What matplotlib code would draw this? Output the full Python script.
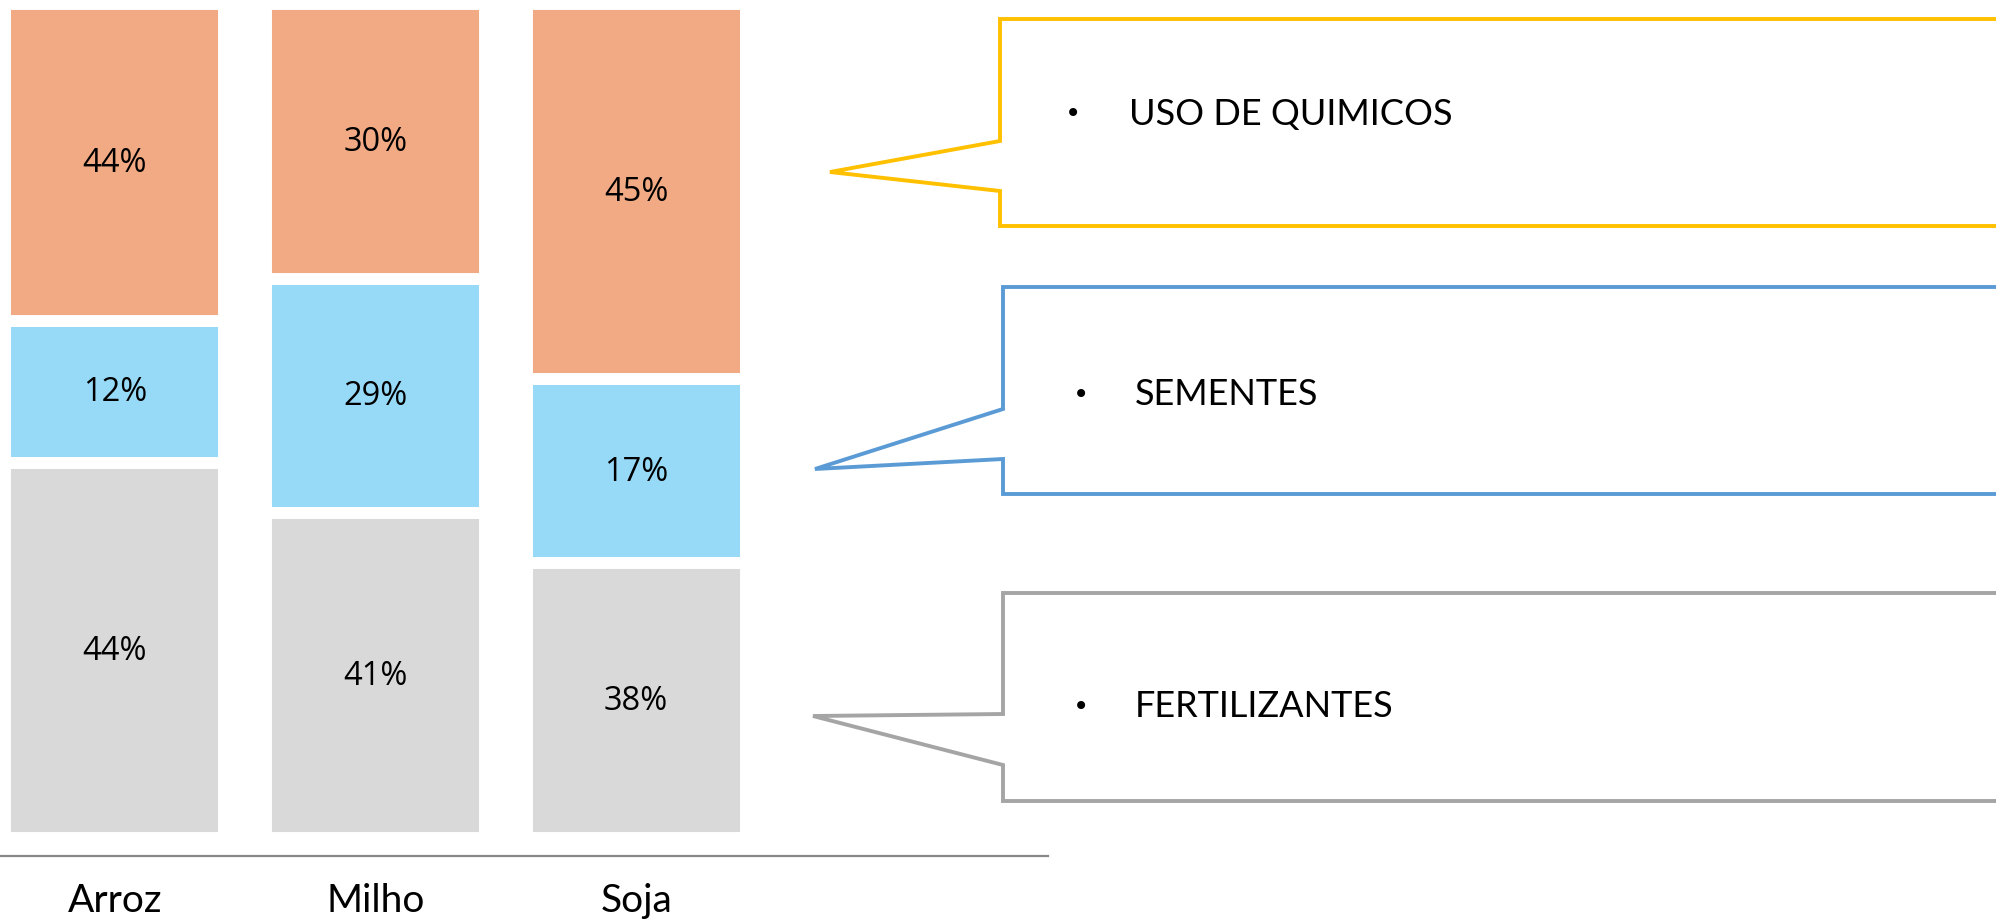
import numpy as np
import matplotlib
matplotlib.use("Agg")
import matplotlib.pyplot as plt
from matplotlib.patches import Polygon

# dados (alturas dos segmentos e rótulos exibidos)
categorias = ["Arroz", "Milho", "Soja"]
fertilizantes = [45, 39, 33]
sementes = [17, 28, 22]
quimicos = [38, 33, 45]
rot_fertilizantes = ["44%", "41%", "38%"]
rot_sementes = ["12%", "29%", "17%"]
rot_quimicos = ["44%", "30%", "45%"]

cor_laranja = "#F2AA84"
cor_azul = "#97DAF7"
cor_cinza = "#D9D9D9"

W, H = 1996, 920
fig = plt.figure(figsize=(W / 100, H / 100), dpi=100)

# eixo principal das barras
ax = fig.add_axes([0, 63 / H, 1048 / W, 852 / H])
x = np.arange(len(categorias))
largura = 0.84
borda = 8.6

base = np.zeros(len(categorias))
for vals, rots, cor in [(fertilizantes, rot_fertilizantes, cor_cinza),
                        (sementes, rot_sementes, cor_azul),
                        (quimicos, rot_quimicos, cor_laranja)]:
    barras = ax.bar(x, vals, largura, bottom=base, color=cor,
                    edgecolor="white", linewidth=borda)
    for b, r in zip(barras, rots):
        ax.text(b.get_x() + b.get_width() / 2, b.get_y() + b.get_height() / 2, r,
                ha="center", va="center", fontsize=23.5, family="Open Sans",
                color="black")
    base = base + np.array(vals)

ax.set_xlim(-0.44, 3.58)
ax.set_ylim(-2.16, 100)
ax.set_yticks([])
ax.set_xticks(x)
ax.set_xticklabels(categorias, family="Lato", fontsize=28)
ax.tick_params(axis="x", length=0, pad=19)
for s in ["top", "right", "left"]:
    ax.spines[s].set_visible(False)
ax.spines["bottom"].set_color("#878787")
ax.spines["bottom"].set_linewidth(1.6)
ax.patch.set_alpha(0)

# camada das caixas de texto (balões)
ov = fig.add_axes([0, 0, 1, 1])
ov.set_xlim(0, W)
ov.set_ylim(H, 0)
ov.axis("off")
ov.patch.set_alpha(0)

baloes = [
    ("USO DE QUIMICOS", "#FFC000", [(2100, 20), (1000, 20), (1000, 142), (830, 173),
                                   (1000, 192), (1000, 227), (2100, 227)], 1073, 1129, 114),
    ("SEMENTES", "#5B9BD5", [(2100, 288), (1003, 288), (1003, 410), (815, 470),
                             (1003, 460), (1003, 495), (2100, 495)], 1081, 1135, 395),
    ("FERTILIZANTES", "#A5A5A5", [(2100, 594), (1003, 594), (1003, 715), (813, 717),
                                  (1003, 766), (1003, 802), (2100, 802)], 1081, 1135, 707),
]
for texto, cor, pts, xb, xt, yt in baloes:
    ov.add_patch(Polygon(pts, closed=True, facecolor="white", edgecolor=cor,
                         linewidth=2.8, joinstyle="miter"))
    ov.text(xb, yt, "•", ha="center", va="center", fontsize=20, family="DejaVu Sans")
    ov.text(xt, yt, texto, ha="left", va="center", fontsize=26, family="Lato")

fig.savefig("out.png", dpi=100)
